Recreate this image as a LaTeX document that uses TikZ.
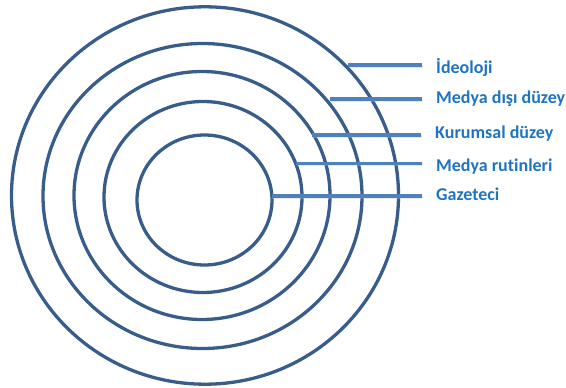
\documentclass[tikz,border=0pt]{standalone}
\usepackage{fontspec}
\setmainfont{Carlito}[Ligatures=NoCommon]
\usepackage{tikz}
\usetikzlibrary{positioning}
\usepackage{xcolor}
\definecolor{ringblue}{HTML}{385D8A}
\definecolor{lineblue}{HTML}{4F81BD}
\definecolor{textblue}{HTML}{1F74C2}

\begin{document}
\begin{tikzpicture}[x=1pt,y=-1pt,
        ring/.style={draw=ringblue,line width=3.3pt},
        link/.style={draw=lineblue,line width=3.3pt,shorten >=14pt,
          preaction={draw=black!25,opacity=.35,line width=3pt,
            transform canvas={shift={(0.8pt,-1.6pt)}}}},
        level/.style={anchor=base west,inner sep=0pt,text=textblue,
          font=\fontsize{18}{20}\selectfont\bfseries}]
        \useasboundingbox (0,0) rectangle (566,388);
        \draw[ring] (204.5,200) ellipse (67.5 and 65);
        \draw[ring] (203,197) ellipse (99 and 95.5);
        \draw[ring] (202,195.5) ellipse (128 and 124);
        \draw[ring] (202.5,196) ellipse (159.5 and 152.5);
        \draw[ring] (205,195.5) ellipse (193.5 and 188.7);
        \node[level] (ideo) at (436,74) {İdeoloji};
        \node[level] (disi) at (436,103.5) {Medya dışı düzey};
        \node[level] (kurum) at (435,138) {Kurumsal düzey};
        \node[level] (rutin) at (436,171) {Medya rutinleri};
        \node[level] (gaz) at (436,200) {Gazeteci};
        \coordinate (s5) at (348,65);
        \coordinate (s4) at (330,99);
        \coordinate (s3) at (311.5,135);
        \coordinate (s2) at (296,163.3);
        \coordinate (s1) at (271.5,196);
        \draw[link] (s5) -- (s5 -| ideo.west);
        \draw[link] (s4) -- (s4 -| disi.west);
        \draw[link] (s3) -- (s3 -| kurum.west);
        \draw[link] (s2) -- (s2 -| rutin.west);
        \draw[link] (s1) -- (s1 -| gaz.west);
        %\draw[ring] (205,195.5) circle (190);
\end{tikzpicture}
\end{document}
